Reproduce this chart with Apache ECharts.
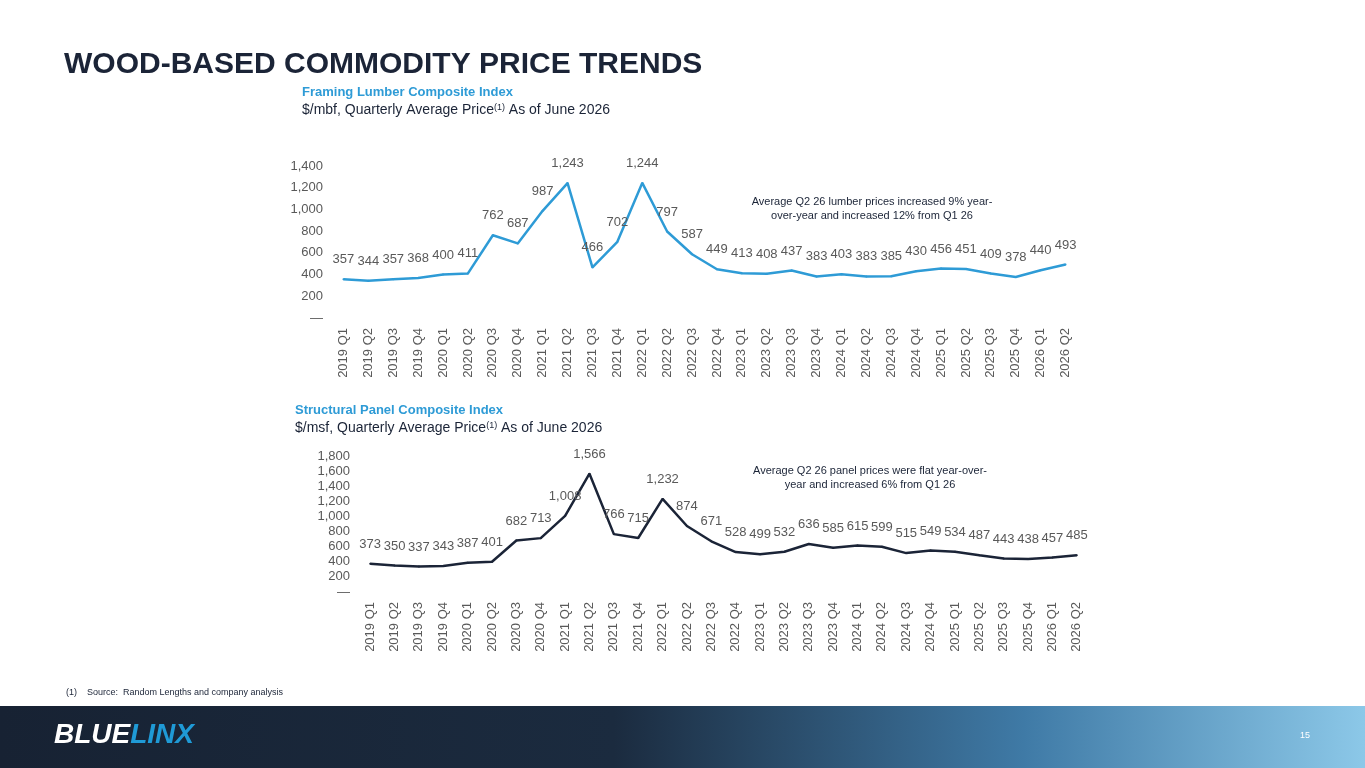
<!DOCTYPE html>
<html><head><meta charset="utf-8">
<script src="https://cdn.jsdelivr.net/npm/echarts@6/dist/echarts.min.js"></script>
<style>html,body{margin:0;padding:0;background:#fff}#container{width:1365px;height:768px}</style>
</head><body><div id="container"></div>
<script>
var quarters = ['2019 Q1','2019 Q2','2019 Q3','2019 Q4','2020 Q1','2020 Q2','2020 Q3','2020 Q4','2021 Q1','2021 Q2','2021 Q3','2021 Q4','2022 Q1','2022 Q2','2022 Q3','2022 Q4','2023 Q1','2023 Q2','2023 Q3','2023 Q4','2024 Q1','2024 Q2','2024 Q3','2024 Q4','2025 Q1','2025 Q2','2025 Q3','2025 Q4','2026 Q1','2026 Q2'];
var lumber = [357,344,357,368,400,411,762,687,987,1243,466,702,1244,797,587,449,413,408,437,383,403,383,385,430,456,451,409,378,440,493];
var panel = [373,350,337,343,387,401,682,713,1008,1566,766,715,1232,874,671,528,499,532,636,585,615,599,515,549,534,487,443,438,457,485];

var dom = document.getElementById('container');
var myChart = echarts.init(dom);
var font = 'Liberation Sans, Arial, sans-serif';

function yFmt(v) { return v === 0 ? '—' : v.toLocaleString('en-US'); }
function xAx(idx) {
    return {
        type: 'category', gridIndex: idx, data: quarters,
        axisLine: { show: false }, axisTick: { show: false },
        axisLabel: { rotate: 90, fontSize: 13, color: '#595959', fontFamily: font, interval: 0, margin: 10 }
    };
}
function yAx(idx, max) {
    return {
        type: 'value', gridIndex: idx, min: 0, max: max, interval: 200,
        splitLine: { show: false },
        axisLabel: { fontSize: 13, color: '#595959', fontFamily: font, formatter: yFmt }
    };
}
function lbl() {
    return { show: true, position: 'top', distance: 12, fontSize: 13, color: '#595959', fontFamily: font,
        formatter: function (p) { return p.value.toLocaleString('en-US'); } };
}
function series(ax, data, color) {
    return { type: 'line', xAxisIndex: ax, yAxisIndex: ax, data: data, symbol: 'circle', symbolSize: 2, showSymbol: true, showAllSymbol: true,
        itemStyle: { color: color }, lineStyle: { color: color, width: 2.5 }, label: lbl(), labelLayout: { hideOverlap: false } };
}

var option = {
    animation: false,
    grid: [
        { left: 331, right: 287, top: 166, height: 152 },
        { left: 358, right: 276, top: 456, height: 136 }
    ],
    xAxis: [xAx(0), xAx(1)],
    yAxis: [yAx(0, 1400), yAx(1, 1800)],
    series: [series(0, lumber, '#2e9bd6'), series(1, panel, '#1b2437')],
    graphic: { elements: [
        { type: 'text', left: 64, top: 50, style: { text: 'WOOD-BASED COMMODITY PRICE TRENDS', font: 'bold 30px ' + font, fill: '#1b2437' } },
        { type: 'text', left: 302, top: 86, style: { text: 'Framing Lumber Composite Index', font: 'bold 13px ' + font, fill: '#2e9bd6' } },
        { type: 'text', left: 302, top: 103, style: { rich: { a: { font: '14px ' + font, fill: '#1b2437' }, s: { font: '9px ' + font, fill: '#1b2437', verticalAlign: 'top', padding: [0,0,6,0] } }, text: '{a|$/mbf, Quarterly Average Price}{s|(1)}{a| As of June 2026}' } },
        { type: 'text', left: 295, top: 404, style: { text: 'Structural Panel Composite Index', font: 'bold 13px ' + font, fill: '#2e9bd6' } },
        { type: 'text', left: 295, top: 421, style: { rich: { a: { font: '14px ' + font, fill: '#1b2437' }, s: { font: '9px ' + font, fill: '#1b2437', verticalAlign: 'top', padding: [0,0,6,0] } }, text: '{a|$/msf, Quarterly Average Price}{s|(1)}{a| As of June 2026}' } },
        { type: 'text', x: 872, y: 195, style: { text: 'Average Q2 26 lumber prices increased 9% year-\nover-year and increased 12% from Q1 26', font: '11px ' + font, fill: '#1b2437', align: 'center', lineHeight: 14 } },
        { type: 'text', x: 870, y: 464, style: { text: 'Average Q2 26 panel prices were flat year-over-\nyear and increased 6% from Q1 26', font: '11px ' + font, fill: '#1b2437', align: 'center', lineHeight: 14 } },
        { type: 'text', left: 66, top: 688, style: { text: '(1)    Source:  Random Lengths and company analysis', font: '9px ' + font, fill: '#1b2437' } },
        { type: 'rect', left: 0, top: 706, shape: { width: 1365, height: 62 },
          style: { fill: new echarts.graphic.LinearGradient(0, 0, 1, 0, [{ offset: 0, color: '#172233' }, { offset: 0.45, color: '#1b2b3f' }, { offset: 0.75, color: '#3f7aa6' }, { offset: 1, color: '#8cc8e8' }]) } },
        { type: 'text', left: 54, top: 721, style: { rich: { w: { font: 'italic bold 28px ' + font, fill: '#ffffff' }, b: { font: 'italic bold 28px ' + font, fill: '#1f9ad6' } }, text: '{w|BLUE}{b|LINX}' } },
        { type: 'text', left: 1300, top: 731, style: { text: '15', font: '9px ' + font, fill: '#ffffff' } }
    ] }
};
myChart.setOption(option);
</script></body></html>
